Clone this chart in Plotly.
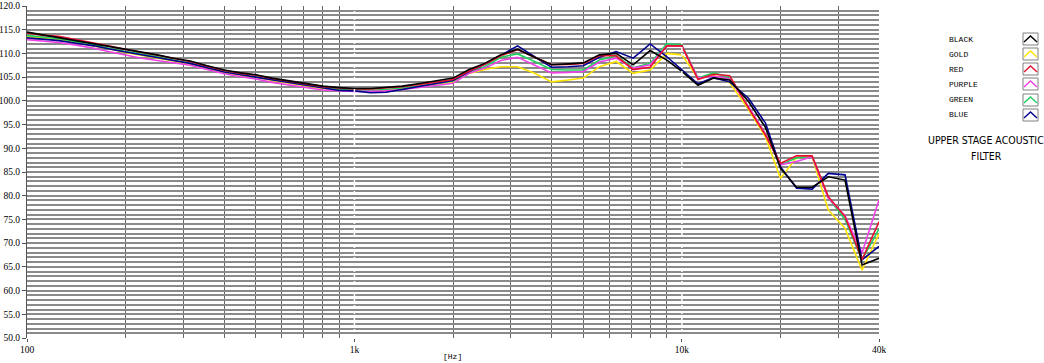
import plotly.graph_objects as go
import math

freqs = [100, 112, 125, 140, 160, 180, 200, 224, 250, 280, 315, 355, 400, 450, 500, 560, 630, 710, 800, 900,
         1000, 1120, 1250, 1400, 1600, 1800, 2000, 2240, 2500, 2800, 3150, 3550, 4000, 4500, 5000, 5600, 6300, 7100, 8000, 9000,
         10000, 11200, 12500, 14000, 16000, 18000, 20000, 22400, 25000, 28000, 31500, 35500, 40000]

black = [114.5, 113.9, 113.3, 112.7, 112.1, 111.5, 110.9, 110.3, 109.7, 109.0, 108.4, 107.4, 106.5, 105.9, 105.5, 104.8, 104.2, 103.6, 103.1, 102.8,
         102.6, 102.6, 102.8, 103.1, 103.7, 104.2, 104.8, 106.6, 107.9, 109.7, 110.9, 109.2, 107.6, 107.8, 108.0, 109.7, 110.0, 107.6, 110.6, 108.6,
         106.2, 103.3, 104.8, 104.4, 99.8, 94.4, 85.8, 81.8, 81.8, 84.0, 83.3, 65.4, 66.8]
gold = [113.6, 113.3, 113.0, 112.3, 111.6, 110.9, 110.2, 109.6, 109.0, 108.4, 107.8, 106.9, 106.0, 105.4, 105.0, 104.3, 103.7, 103.1, 102.6, 102.4,
        102.2, 102.2, 102.3, 102.6, 103.1, 103.6, 104.0, 105.8, 106.6, 107.2, 107.2, 105.8, 104.0, 104.4, 104.8, 107.2, 108.3, 105.8, 106.5, 110.0,
        109.7, 104.8, 105.4, 103.8, 98.1, 92.4, 83.7, 88.0, 88.2, 77.0, 73.1, 64.3, 72.0]
red = [114.3, 113.8, 113.6, 113.0, 112.2, 111.5, 110.8, 110.2, 109.6, 108.9, 108.3, 107.3, 106.4, 105.8, 105.4, 104.7, 104.1, 103.5, 103.0, 102.7,
       102.5, 102.5, 102.7, 103.0, 103.5, 104.0, 104.5, 106.3, 107.7, 109.5, 110.8, 109.2, 107.6, 107.7, 107.9, 109.5, 109.5, 106.6, 107.1, 111.6,
       111.6, 104.5, 105.6, 105.3, 98.4, 92.8, 86.8, 88.4, 88.4, 79.8, 75.6, 66.5, 74.5]
purple = [112.9, 112.6, 112.3, 111.8, 111.1, 110.3, 109.6, 109.0, 108.5, 108.0, 107.5, 106.6, 105.7, 105.1, 104.6, 103.9, 103.3, 102.8, 102.3, 102.1,
          102.0, 102.0, 102.1, 102.4, 102.8, 103.3, 103.7, 105.8, 106.9, 108.5, 109.2, 107.6, 105.9, 106.0, 106.2, 108.2, 109.0, 106.9, 107.6, 111.6,
          111.6, 104.8, 105.2, 104.6, 98.7, 93.0, 86.5, 87.2, 88.2, 79.5, 75.8, 67.9, 79.1]
green = [113.8, 113.4, 113.1, 112.5, 111.8, 111.0, 110.4, 110.0, 109.3, 108.6, 108.0, 107.1, 106.2, 105.6, 105.1, 104.5, 103.9, 103.3, 102.8, 102.5,
         102.3, 102.2, 102.4, 102.7, 103.2, 103.7, 104.2, 106.0, 107.2, 109.2, 109.9, 108.3, 106.6, 106.5, 106.5, 108.6, 109.5, 107.0, 107.9, 112.1,
         111.8, 104.8, 105.9, 105.0, 98.6, 93.0, 86.5, 88.0, 88.2, 79.6, 75.0, 66.5, 73.0]
blue = [113.3, 113.0, 112.7, 112.2, 111.6, 110.9, 110.3, 109.7, 109.1, 108.5, 107.9, 107.0, 106.1, 105.5, 105.0, 104.4, 103.8, 103.2, 102.7, 102.2,
        102.1, 101.7, 101.8, 102.4, 103.0, 103.6, 104.3, 106.2, 107.7, 109.6, 111.6, 109.3, 107.1, 107.2, 107.4, 109.2, 110.4, 109.0, 112.0, 109.3,
        106.5, 103.6, 104.9, 104.0, 100.5, 95.3, 86.1, 81.6, 81.4, 84.7, 84.4, 66.5, 69.3]

series_names = ["BLACK", "GOLD", "RED", "PURPLE", "GREEN", "BLUE"]
series_values = [black, gold, red, purple, green, blue]
series_colors = ["#000000", "#FFE400", "#E8102E", "#F040E8", "#20D060", "#000090"]
draw_order = ["GOLD", "GREEN", "PURPLE", "BLUE", "RED", "BLACK"]

y_ticks = [50, 55, 60, 65, 70, 75, 80, 85, 90, 95, 100, 105, 110, 115, 120]
x_tickvals = [100, 1000, 10000, 40000]
x_ticktext = ["100", "1k", "10k", "40k"]
x_gridvals = [200, 300, 400, 500, 600, 700, 800, 900, 2000, 3000, 4000, 5000, 6000, 7000, 8000, 9000, 20000, 30000]

W, H = 1044, 363
L, R, T, B = 27, 879, 6, 338

fig = go.Figure()
lookup = dict(zip(series_names, zip(series_values, series_colors)))
for name in draw_order:
    vals, col = lookup[name]
    fig.add_trace(go.Scatter(x=freqs, y=vals, mode="lines", name=name,
                             line=dict(color=col, width=1.6), showlegend=False))

def px2paper(px, py):
    return (px - L) / (R - L), (B - py) / (B - T)

annotations = []
shapes = []
rows_y = [39, 54, 69, 84, 100, 115]
for name, col, py in zip(series_names, series_colors, rows_y):
    xa, ya = px2paper(947, py)
    annotations.append(dict(x=xa, y=ya, xref="paper", yref="paper", text=name, showarrow=False,
                            xanchor="left", yanchor="middle",
                            font=dict(family="Liberation Mono", size=8, color="#000")))
    x0, y0 = px2paper(1023, py + 6)
    x1, y1 = px2paper(1038, py - 6)
    shapes.append(dict(type="rect", xref="paper", yref="paper", x0=x0, y0=y0, x1=x1, y1=y1,
                       line=dict(color="#808080", width=1), fillcolor="white"))
    a = px2paper(1024, py + 3)
    b = px2paper(1030.5, py - 3)
    c = px2paper(1037, py + 3)
    shapes.append(dict(type="path", xref="paper", yref="paper",
                       path=f"M {a[0]} {a[1]} L {b[0]} {b[1]} L {c[0]} {c[1]}",
                       line=dict(color=col, width=1.4)))

for txt, py in [("UPPER STAGE ACOUSTIC", 140), ("FILTER", 156)]:
    xa, ya = px2paper(986, py)
    annotations.append(dict(x=xa, y=ya, xref="paper", yref="paper", text=txt, showarrow=False,
                            xanchor="center", yanchor="middle",
                            font=dict(family="DejaVu Sans Condensed, Roboto Condensed, Liberation Sans Narrow, Liberation Sans",
                                      size=10.5, color="#000")))

xa, ya = px2paper(452, 356)
annotations.append(dict(x=xa, y=ya, xref="paper", yref="paper", text="[Hz]", showarrow=False,
                        xanchor="center", yanchor="middle",
                        font=dict(family="Liberation Mono", size=8, color="#000")))

# white breaks at decade lines (1k, 10k)
for f in [1000, 10000]:
    shapes.append(dict(type="line", xref="x", yref="paper", x0=f, x1=f, y0=0, y1=1,
                       line=dict(color="white", width=1.5, dash="dot"), layer="above"))

fig.update_layout(
    width=W, height=H,
    margin=dict(l=L, r=W - R, t=T, b=H - B),
    paper_bgcolor="white", plot_bgcolor="white",
    annotations=annotations, shapes=shapes,
    xaxis=dict(type="log", range=[2, math.log10(40000)], tickvals=x_tickvals, ticktext=x_ticktext,
               showgrid=False, ticks="outside", ticklen=3, tickcolor="#555", zeroline=False, automargin=False,
               tickfont=dict(family="Liberation Serif", size=9.5, color="#000"),
               minor=dict(tickvals=x_gridvals, showgrid=True, gridcolor="#666666", gridwidth=1.2, ticks=""),
               showline=False),
    yaxis=dict(range=[50, 120], tickvals=y_ticks, tickformat=".1f", showgrid=True, gridcolor="#8a8a8a",
               gridwidth=1.5, ticks="outside", ticklen=4, tickcolor="#555", zeroline=False, automargin=False,
               tickfont=dict(family="Liberation Serif", size=9.5, color="#000"),
               minor=dict(dtick=1, showgrid=True, gridcolor="#8a8a8a", gridwidth=1.5),
               showline=True, linecolor="#555", linewidth=1),
)

fig.write_html("out.html")
